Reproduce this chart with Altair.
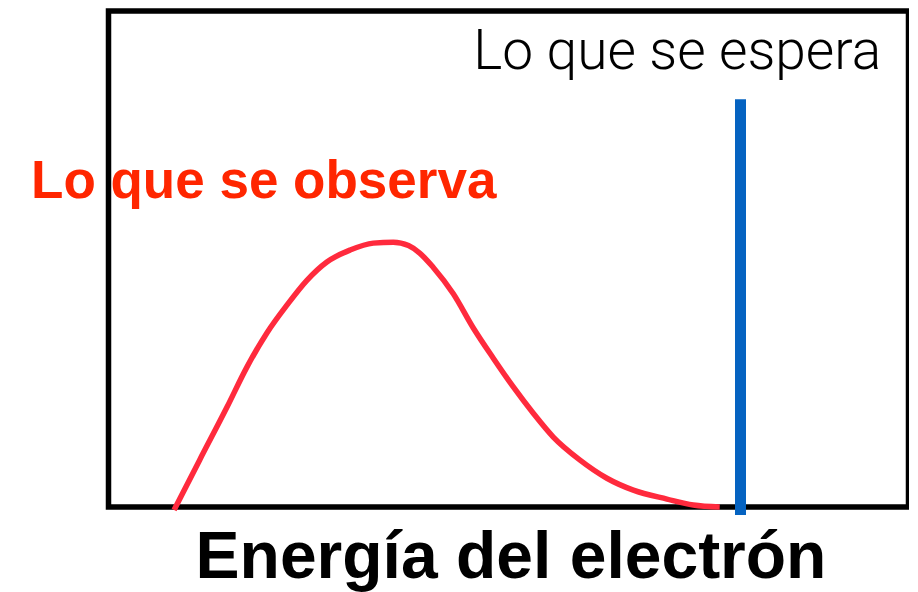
import altair as alt
import pandas as pd

energy = [8.2, 11.4, 14.8, 17.3, 19.8, 22.3, 24.8, 27.3, 30.2, 33.1, 35.6, 37.5,
          38.9, 40.6, 43.1, 45.6, 48.1, 50.6, 53.1, 55.6, 58.9, 62.3, 65.6, 69.8,
          73.1, 76.4]
counts = [-0.6, 9.5, 20.1, 28.2, 35.1, 40.7, 45.7, 49.4, 51.8, 53.2, 53.4, 52.7,
          51.2, 48.3, 43.0, 36.1, 30.0, 24.2, 18.9, 14.1, 9.5, 5.8, 3.4, 1.6,
          0.4, 0.0]

# Expected: single energy value
expected_energy = [79.0]
expected_top = [82.2]
expected_bottom = [-1.6]

labels = ["Lo que se espera", "Lo que se observa"]
label_x = [71.1, 19.4]
label_y = [88.4, 62.2]

x_scale = alt.Scale(domain=[0, 100], nice=False, zero=False)
y_scale = alt.Scale(domain=[0, 100], nice=False, zero=False)

curve_df = pd.DataFrame({"energy": energy, "counts": counts})
exp_df = pd.DataFrame({"energy": expected_energy, "top": expected_top,
                       "bottom": expected_bottom})

x_axis = alt.Axis(domain=False, ticks=False, labels=False, grid=False,
                  title="Energía del electrón", titleFontSize=66,
                  titleFontWeight="bold", titleFont="Liberation Sans",
                  titleColor="black", titleX=402, titleY=70,
                  titleAlign="center", titleBaseline="alphabetic")
y_axis = alt.Axis(domain=False, ticks=False, labels=False, grid=False, title=None)

curve = alt.Chart(curve_df).mark_line(
    color="#FF2A3D", strokeWidth=5.5, interpolate="monotone", clip=False
).encode(
    x=alt.X("energy:Q", scale=x_scale, axis=x_axis),
    y=alt.Y("counts:Q", scale=y_scale, axis=y_axis),
)

expected = alt.Chart(exp_df).mark_rule(
    color="#0563C1", strokeWidth=11, strokeCap="butt"
).encode(
    x=alt.X("energy:Q", scale=x_scale),
    y=alt.Y("top:Q", scale=y_scale),
    y2="bottom:Q",
)

lbl1 = alt.Chart(pd.DataFrame({"t": [labels[0]], "x": [label_x[0]], "y": [label_y[0]]})).mark_text(
    font="Roboto", fontWeight=300, fontSize=55, color="black",
    align="center", baseline="alphabetic"
).encode(
    x=alt.X("x:Q", scale=x_scale), y=alt.Y("y:Q", scale=y_scale), text="t:N"
)

lbl2 = alt.Chart(pd.DataFrame({"t": [labels[1]], "x": [label_x[1]], "y": [label_y[1]]})).mark_text(
    font="Liberation Sans", fontWeight="bold", fontSize=53, color="#FF2600",
    align="center", baseline="alphabetic"
).encode(
    x=alt.X("x:Q", scale=x_scale), y=alt.Y("y:Q", scale=y_scale), text="t:N"
)

chart = alt.layer(lbl2, curve, expected, lbl1).properties(
    width=800, height=496,
    autosize=alt.AutoSizeParams(type="none"),
    padding={"left": 100.5, "top": 3, "right": 0, "bottom": 85},
).configure(
    background="white",
    view=alt.ViewConfig(stroke="black", strokeWidth=5.5),
)

chart.save("out.html", embed_options={"renderer": "svg", "actions": False})
